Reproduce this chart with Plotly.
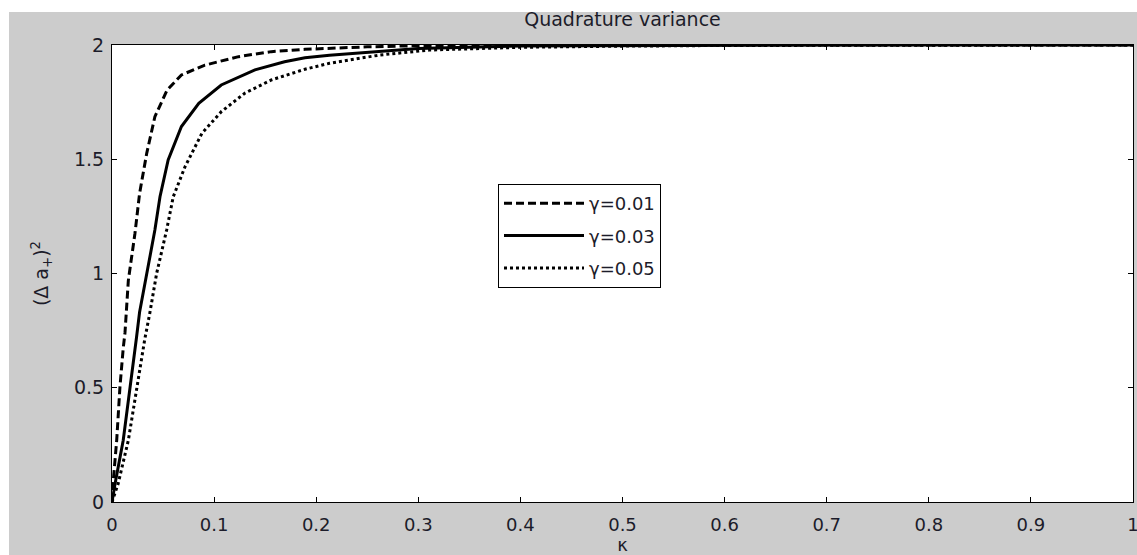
import plotly.graph_objects as go

# gamma = 0.01 (dashed)
kappa_g001 = [0, 0.0013, 0.0046, 0.0078, 0.011, 0.0127, 0.016, 0.0225, 0.027, 0.034, 0.042,
              0.054, 0.068, 0.091, 0.124, 0.156, 0.189, 0.25, 0.3, 0.4, 0.6, 0.8, 1.0]
var_g001 = [0, 0.096, 0.27, 0.505, 0.673, 0.74, 0.97, 1.176, 1.35, 1.526, 1.686,
            1.803, 1.869, 1.912, 1.949, 1.971, 1.981, 1.992, 1.997, 1.999, 2.0, 2.0, 2.0]

# gamma = 0.03 (solid)
kappa_g003 = [0, 0.003, 0.011, 0.0176, 0.022, 0.024, 0.027, 0.034, 0.042, 0.047, 0.055,
              0.068, 0.085, 0.107, 0.140, 0.169, 0.189, 0.213, 0.262, 0.3, 0.4, 0.6, 0.8, 1.0]
var_g003 = [0, 0.08, 0.27, 0.49, 0.66, 0.72, 0.83, 1.0, 1.19, 1.336, 1.497,
            1.643, 1.745, 1.825, 1.891, 1.927, 1.944, 1.955, 1.973, 1.985, 1.996, 1.999, 2.0, 2.0]

# gamma = 0.05 (dotted)
kappa_g005 = [0, 0.006, 0.016, 0.024, 0.0307, 0.032, 0.037, 0.0437, 0.0535, 0.060, 0.0715,
              0.088, 0.107, 0.130, 0.156, 0.189, 0.213, 0.262, 0.311, 0.4, 0.5, 0.6, 0.8, 1.0]
var_g005 = [0, 0.08, 0.27, 0.49, 0.66, 0.71, 0.826, 1.0, 1.19, 1.336, 1.467,
            1.613, 1.708, 1.789, 1.847, 1.894, 1.92, 1.956, 1.978, 1.99, 1.995, 1.998, 1.999, 2.0]

series_names = ["γ=0.01", "γ=0.03", "γ=0.05"]

x_ticks = [0, 0.1, 0.2, 0.3, 0.4, 0.5, 0.6, 0.7, 0.8, 0.9, 1.0]
x_tick_text = ["0", "0.1", "0.2", "0.3", "0.4", "0.5", "0.6", "0.7", "0.8", "0.9", "1"]
y_ticks = [0, 0.5, 1, 1.5, 2]
y_tick_text = ["0", "0.5", "1", "1.5", "2"]

FONT = "DejaVu Sans, Liberation Sans, Arial, sans-serif"
TXT = "#1c1c2a"

fig = go.Figure()
fig.add_trace(go.Scatter(x=kappa_g001, y=var_g001, mode="lines", name=series_names[0],
                         legendgroup="a",
                         line=dict(color="black", width=3, dash="8px,4px")))
fig.add_trace(go.Scatter(x=kappa_g003, y=var_g003, mode="lines", name=series_names[1],
                         legendgroup="b",
                         line=dict(color="black", width=3)))
fig.add_trace(go.Scatter(x=kappa_g005, y=var_g005, mode="lines", name=series_names[2],
                         legendgroup="c",
                         line=dict(color="black", width=3, dash="3px,3px")))

L, R, T, B = 112, 4, 45, 53
W, H = 1137, 555
pw, ph = W - L - R, H - T - B

def px_x(p):
    return (p - L) / pw

def px_y(p):
    return (H - B - p) / ph

fig.update_layout(
    width=W, height=H,
    margin=dict(l=L, r=R, t=T, b=B, pad=0, autoexpand=False),
    paper_bgcolor="#cccccc",
    plot_bgcolor="white",
    font=dict(family=FONT, color=TXT, size=18),
    title=dict(text="Quadrature variance", x=0.5, xref="paper", xanchor="center",
               y=1 - 19 / H, yanchor="middle",
               font=dict(family=FONT, size=19, color=TXT)),
    showlegend=True,
    legend=dict(x=px_x(498), y=px_y(184), xanchor="left", yanchor="top",
                bgcolor="white", bordercolor="black", borderwidth=1,
                font=dict(family=FONT, size=18, color=TXT),
                traceorder="grouped", tracegroupgap=6, itemwidth=80,
                itemclick=False),
    xaxis=dict(range=[0, 1], tickvals=x_ticks, ticktext=x_tick_text,
               ticks="inside", ticklen=5, tickcolor="black", tickwidth=1,
               showline=True, linecolor="black", linewidth=1, mirror="ticks",
               showgrid=False, zeroline=False, automargin=False,
               ticklabelstandoff=6, ticklabeloverflow="allow",
               tickfont=dict(family=FONT, size=18, color=TXT),
               title=dict(text="κ", standoff=13, font=dict(family=FONT, size=18, color=TXT))),
    yaxis=dict(range=[0, 2], tickvals=y_ticks, ticktext=y_tick_text,
               ticks="inside", ticklen=5, tickcolor="black", tickwidth=1,
               showline=True, linecolor="black", linewidth=1, mirror="ticks",
               showgrid=False, zeroline=False, automargin=False,
               ticklabelstandoff=3,
               tickfont=dict(family=FONT, size=19, color=TXT),
               title=dict(text="(Δ a<sub>+</sub>)<sup>2</sup>", standoff=20,
                          font=dict(family=FONT, size=19, color=TXT))),
    shapes=[
        dict(type="rect", xref="paper", yref="paper", x0=-0.2, x1=1.2,
             y0=px_y(12), y1=px_y(-5), fillcolor="white", line=dict(width=0), layer="below"),
        dict(type="rect", xref="paper", yref="paper", x0=px_x(-5), x1=px_x(9),
             y0=px_y(560), y1=px_y(-5), fillcolor="white", line=dict(width=0), layer="below"),
    ],
)

fig.write_html("out.html", config={"displayModeBar": False},
               post_script="document.body.style.margin='0';document.body.style.overflow='hidden';")
